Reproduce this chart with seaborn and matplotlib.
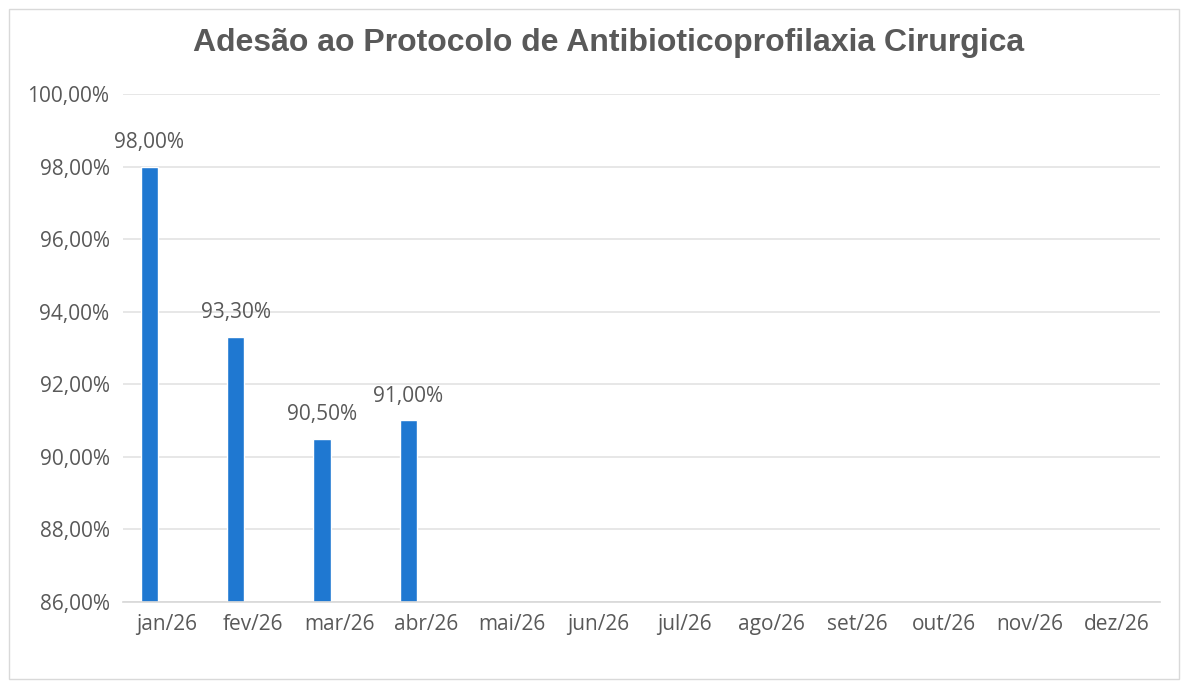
import numpy as np
import pandas as pd
import seaborn as sns
import matplotlib.pyplot as plt
from matplotlib.ticker import FuncFormatter, MultipleLocator
from matplotlib.patches import Rectangle

# -----------------------------
# Data
# -----------------------------
MONTHS = ["jan/26", "fev/26", "mar/26", "abr/26", "mai/26", "jun/26",
          "jul/26", "ago/26", "set/26", "out/26", "nov/26", "dez/26"]
ADESAO = [98.0, 93.3, 90.5, 91.0, None, None, None, None, None, None, None, None]
SERIES = ["Adesão", "Meta"]  # second series is empty in the source chart

TITLE = "Adesão ao Protocolo de Antibioticoprofilaxia Cirurgica"
BAR_COLOR = "#1f78d1"
TEXT_COLOR = "#595959"

df = pd.DataFrame({"mes": MONTHS, "valor": ADESAO, "serie": SERIES[0]})
df["valor"] = pd.to_numeric(df["valor"], errors="coerce")
df["mes"] = pd.Categorical(df["mes"], categories=MONTHS, ordered=True)

# -----------------------------
# Style
# -----------------------------
sns.set_theme(style="white")
plt.rcParams["font.family"] = ["Open Sans", "DejaVu Sans"]


def pt_pct(v, _pos=None):
    return f"{v:.2f}".replace(".", ",") + "%"


fig = plt.figure(figsize=(11.87, 6.87), dpi=100)
ax = fig.add_axes([0.104, 0.124, 0.873, 0.739])

sns.barplot(
    data=df,
    x="mes",
    y="valor",
    hue="serie",
    hue_order=SERIES,
    order=MONTHS,
    palette=[BAR_COLOR, BAR_COLOR],
    dodge=True,
    width=0.8,
    gap=0.5,
    errorbar=None,
    legend=False,
    saturation=1,
    ax=ax,
)

# Data labels
for cont in ax.containers:
    labels = [pt_pct(v) if not np.isnan(v) else "" for v in cont.datavalues]
    ax.bar_label(cont, labels=labels, padding=10, fontsize=15, color=TEXT_COLOR)

ax.set_ylim(86, 100)
ax.yaxis.set_major_locator(MultipleLocator(2))
ax.yaxis.set_major_formatter(FuncFormatter(pt_pct))
ax.grid(axis="y", color="#e3e3e3", linewidth=1.2)
ax.set_axisbelow(True)
for side in ["top", "right", "left"]:
    ax.spines[side].set_visible(False)
ax.spines["bottom"].set_color("#d9d9d9")
ax.tick_params(axis="both", length=0, labelsize=15, labelcolor=TEXT_COLOR)
ax.tick_params(axis="y", pad=10)
ax.tick_params(axis="x", pad=9)
ax.set_xlabel("")
ax.set_ylabel("")

fig.text(0.513, 0.937, TITLE, ha="center", va="center", fontsize=23,
         fontweight="bold", color=TEXT_COLOR, family=["Liberation Sans", "DejaVu Sans"])

# Chart border
fig.patches.append(Rectangle((0.008, 0.012), 0.985, 0.975, transform=fig.transFigure,
                             fill=False, edgecolor="#d9d9d9", linewidth=1))

fig.savefig("out.png", dpi=100)
